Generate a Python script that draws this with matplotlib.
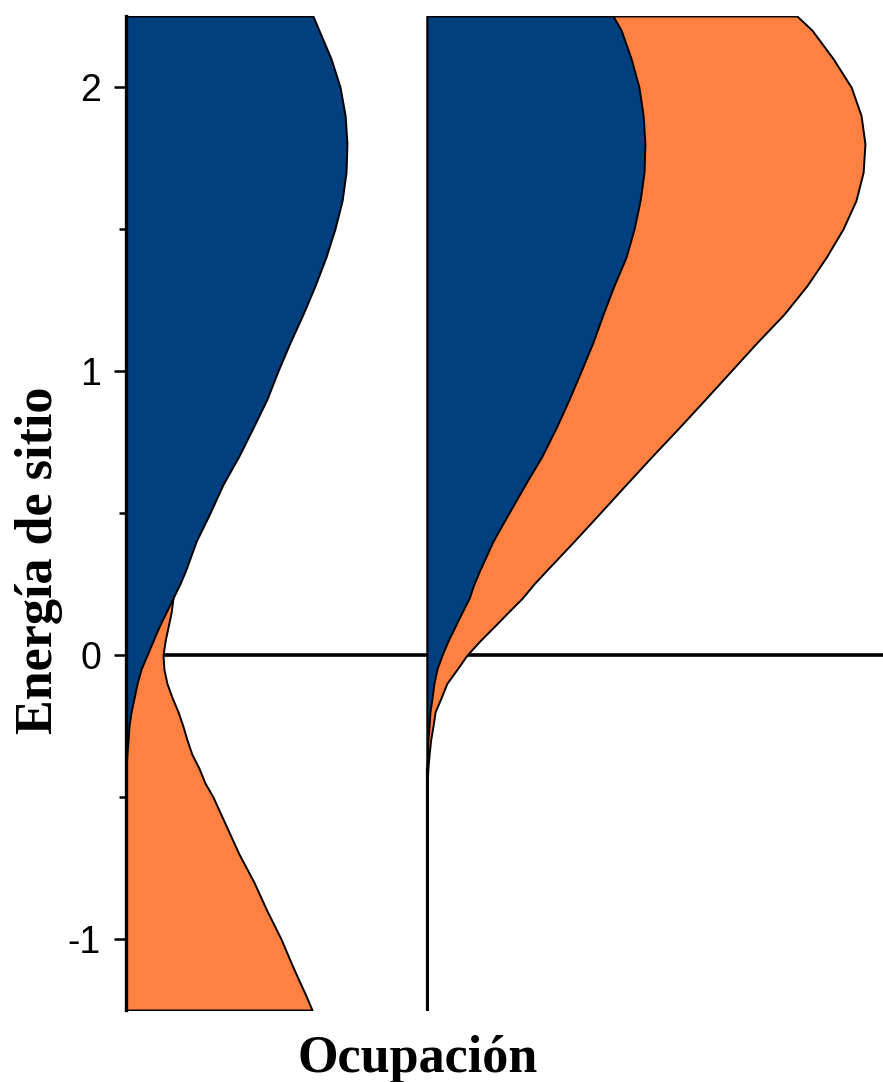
import numpy as np
import matplotlib.pyplot as plt

plt.rcParams["axes.unicode_minus"] = False

# energía de sitio (eje vertical)
energia = np.array([2.25, 2.2, 2.1, 2.0, 1.9, 1.8, 1.7, 1.6, 1.5, 1.4, 1.3, 1.2,
                    1.1, 1.0, 0.9, 0.8, 0.7, 0.6, 0.5, 0.4, 0.3, 0.25, 0.2,
                    0.15, 0.1, 0.05, 0.0, -0.05, -0.1, -0.15, -0.2, -0.25,
                    -0.3, -0.35, -0.4, -0.45, -0.5, -0.6, -0.7, -0.8, -0.9,
                    -1.0, -1.1, -1.2, -1.25])

# panel izquierdo: ocupación del sitio (azul) y hueco (naranja)
ocup_izq = np.array([0.621, 0.641, 0.681, 0.711, 0.728, 0.734, 0.731, 0.718,
                     0.694, 0.664, 0.628, 0.588, 0.545, 0.505, 0.468, 0.422,
                     0.375, 0.322, 0.279, 0.233, 0.199, 0.179, 0.156, 0.133,
                     0.110, 0.090, 0.070, 0.050, 0.037, 0.027, 0.017, 0.010,
                     0.007, 0.003, 0.0, 0.0, 0.0, 0.0, 0.0, 0.0, 0.0, 0.0,
                     0.0, 0.0, 0.0])
hueco_izq = np.array([0.0, 0.0, 0.0, 0.0, 0.0, 0.0, 0.0, 0.0, 0.0, 0.0, 0.0,
                      0.0, 0.0, 0.0, 0.0, 0.0, 0.0, 0.0, 0.0, 0.100, 0.133,
                      0.145, 0.156, 0.150, 0.140, 0.130, 0.123, 0.126, 0.136,
                      0.153, 0.173, 0.189, 0.203, 0.219, 0.243, 0.262, 0.289,
                      0.332, 0.375, 0.425, 0.468, 0.515, 0.555, 0.598, 0.618])

# panel derecho: ocupación (azul) y total acumulado (naranja)
ocup_der = np.array([0.618, 0.645, 0.678, 0.704, 0.718, 0.724, 0.721, 0.708,
                     0.688, 0.661, 0.621, 0.585, 0.551, 0.512, 0.472, 0.429,
                     0.382, 0.326, 0.272, 0.219, 0.176, 0.156, 0.140, 0.116,
                     0.093, 0.070, 0.050, 0.033, 0.023, 0.017, 0.010, 0.007,
                     0.003, 0.002, 0.0, 0.0, 0.0, 0.0, 0.0, 0.0, 0.0, 0.0,
                     0.0, 0.0, 0.0])
total_der = np.array([1.229, 1.279, 1.349, 1.409, 1.442, 1.455, 1.449, 1.425,
                      1.382, 1.326, 1.262, 1.186, 1.096, 1.010, 0.924, 0.837,
                      0.748, 0.661, 0.575, 0.488, 0.399, 0.355, 0.316, 0.269,
                      0.223, 0.176, 0.133, 0.100, 0.066, 0.047, 0.027, 0.020,
                      0.012, 0.007, 0.003, 0.001, 0.0, 0.0, 0.0, 0.0, 0.0,
                      0.0, 0.0, 0.0, 0.0])

desplazamiento = 1.0  # separación horizontal del segundo panel

azul = "#023f7e"
naranja = "#fe8142"

fig = plt.figure(figsize=(8.83, 10.82), dpi=100)
ax = fig.add_axes([126 / 883, 1 - 1010 / 1082, 757 / 883, 994 / 1082])

# línea de energía cero
ax.axhline(0, color="black", lw=2.6, zorder=1)

# panel izquierdo
m = hueco_izq > 0
ax.fill_betweenx(energia[m], 0, hueco_izq[m], facecolor=naranja,
                 edgecolor="black", lw=1.4, zorder=2)
ax.fill_betweenx(energia, 0, ocup_izq, facecolor=azul,
                 edgecolor="black", lw=1.4, zorder=3)

# panel derecho
ax.plot([desplazamiento, desplazamiento], [-1.25, -0.4], color="black", lw=1.6, zorder=2)
ax.fill_betweenx(energia, desplazamiento, desplazamiento + total_der,
                 facecolor=naranja, edgecolor="black", lw=1.4, zorder=2)
ax.fill_betweenx(energia, desplazamiento, desplazamiento + ocup_der,
                 facecolor=azul, edgecolor="black", lw=1.4, zorder=3)

ax.set_xlim(0, 757 / 301)
ax.set_ylim(-1.25, 2.25)

for lado in ["top", "right", "bottom"]:
    ax.spines[lado].set_visible(False)
ax.spines["left"].set_linewidth(2.4)
ax.spines["left"].set_zorder(5)

ax.set_xticks([])
ax.set_yticks([-1, 0, 1, 2])
ax.set_yticks([-0.5, 0.5, 1.5], minor=True)
ax.tick_params(axis="y", which="major", length=9, width=1.8, pad=9,
               labelsize=27)
ax.tick_params(axis="y", which="minor", length=5, width=1.8)
for t in ax.get_yticklabels():
    t.set_family("Liberation Sans")

fig.text(39 / 883, 1 - 560 / 1082, "Energía de sitio", rotation=90,
         ha="center", va="center", fontsize=37.5, fontweight="bold",
         family="Liberation Serif")
fig.text(418 / 883, 1 - 1072 / 1082, "Ocupación", ha="center",
         va="baseline", fontsize=37.5, fontweight="bold",
         family="Liberation Serif")

fig.savefig("out.png", dpi=100)
